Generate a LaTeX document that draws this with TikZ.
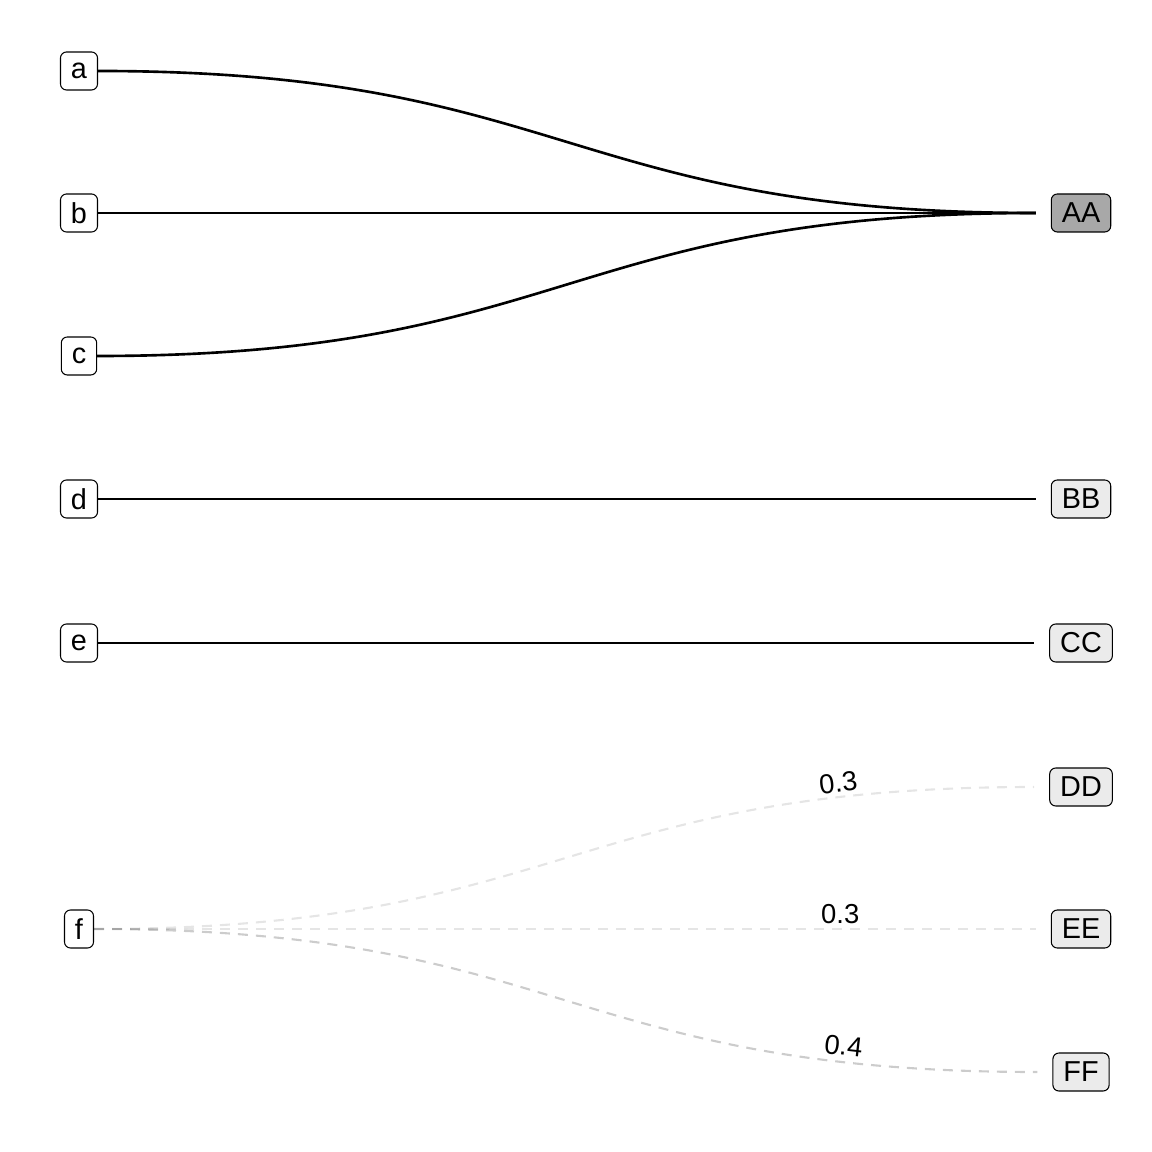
\documentclass[tikz,border=0pt]{standalone}
\usepackage{fontspec}
\setmainfont{Liberation Sans}
\usetikzlibrary{positioning}

\begin{document}
\begin{tikzpicture}[x=0.1mm, y=-0.1mm,
    every node/.style={
    font=\fontsize{8.2}{9}\selectfont,
    draw,
    line width=0.3pt,
    rounded corners=0.6mm,
    inner xsep=1.05mm,
    inner ysep=0.5mm,
    minimum height=3.8mm},
    from/.style={fill=white},
    to/.style={fill=black!8},
    hub/.style={fill=black!34},
    link/.style={line width=0.75pt, shorten >=1.5mm},
    weak/.style={line width=0.6pt, dash pattern=on 1mm off 0.8mm, draw=black, shorten >=1.5mm},
    wt/.style={draw=none, fill=none, font=\fontsize{7.8}{9}\selectfont, inner sep=0.5mm, minimum height=0pt, pos=0.83, above, sloped}]

    \useasboundingbox (0,0) rectangle (1152,1152);

    \node[from] (a) at (79,71) {a};
    \node[from] (b) at (79,213) {b};
    \node[from] (c) at (79,356) {c};
    \node[from] (d) at (79,499) {d};
    \node[from] (e) at (79,643) {e};
    \node[from] (f) at (79,929) {f};

    \node[hub] (AA) at (1081,213) {AA};
    \node[to] (BB) at (1081,499) {BB};
    \node[to] (CC) at (1081,643) {CC};
    \node[to] (DD) at (1081,787) {DD};
    \node[to] (EE) at (1081,929) {EE};
    \node[to] (FF) at (1081,1072) {FF};

    \draw[link] (a.east) .. controls (567,71) and (567,213) .. (AA.west);
    \draw[link] (b.east) -- (AA.west);
    \draw[link] (c.east) .. controls (567,356) and (567,213) .. (AA.west);
    \draw[link] (d.east) -- (BB.west);
    \draw[link] (e.east) -- (CC.west);

    \draw[weak, draw opacity=0.1] (f.east) .. controls (566,929) and (566,787) .. (DD.west)
        node[wt] {0.3};
    \draw[weak, draw opacity=0.1] (f.east) -- (EE.west)
        node[wt, pos=0.78] {0.3};
    \draw[weak, draw opacity=0.2] (f.east) .. controls (566,929) and (566,1072) .. (FF.west)
        node[wt] {0.4};
\end{tikzpicture}
\end{document}
